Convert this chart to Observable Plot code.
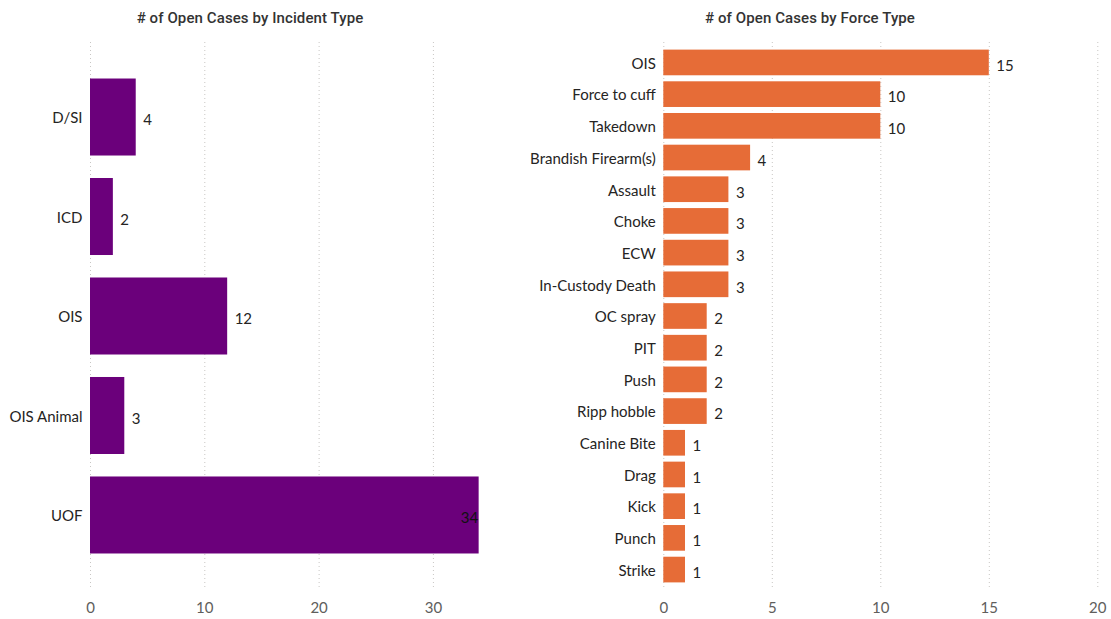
<!DOCTYPE html>
<html>
<head>
<meta charset="utf-8">
<script src="https://cdn.jsdelivr.net/npm/d3@7"></script>
<script src="https://cdn.jsdelivr.net/npm/@observablehq/plot@0.6"></script>
<style>
  html, body { margin: 0; padding: 0; background: #fff; }
  #root { position: relative; width: 1111px; height: 619px; overflow: hidden; }
  .title { position: absolute; top: 9px; font-family: Roboto, sans-serif; font-weight: 500; font-size: 15px; color: #333; white-space: nowrap; transform: translateX(-50%); letter-spacing: 0.1px; }
  .chart { position: absolute; top: 0; }
</style>
</head>
<body>
<div id="root">
  <div class="title" id="t1" style="left:250px"></div>
  <div class="title" id="t2" style="left:810px"></div>
  <div class="chart" id="c1" style="left:0px"></div>
  <div class="chart" id="c2" style="left:500px"></div>
</div>
<script>
// ---- data ----
const incidentTitle = "# of Open Cases by Incident Type";
const forceTitle = "# of Open Cases by Force Type";
const incidentTypes = ["D/SI", "ICD", "OIS", "OIS Animal", "UOF"];
const incidentCounts = [4, 2, 12, 3, 34];
const incidentTicks = [0, 10, 20, 30];
const forceTypes = ["OIS", "Force to cuff", "Takedown", "Brandish Firearm(s)", "Assault", "Choke", "ECW",
  "In-Custody Death", "OC spray", "PIT", "Push", "Ripp hobble", "Canine Bite", "Drag", "Kick", "Punch", "Strike"];
const forceCounts = [15, 10, 10, 4, 3, 3, 3, 3, 2, 2, 2, 2, 1, 1, 1, 1, 1];
const forceTicks = [0, 5, 10, 15, 20];

document.getElementById("t1").textContent = incidentTitle;
document.getElementById("t2").textContent = forceTitle;

const incidentData = incidentTypes.map((c, i) => ({cat: c, value: incidentCounts[i]}));
const forceData = forceTypes.map((c, i) => ({cat: c, value: forceCounts[i]}));

const textColor = "#252423";
const axisColor = "#605E5C";
const gridColor = "#c8c6c4";
const fontFamily = 'Lato, "Open Sans", sans-serif';

function barChart({data, cats, ticks, domainMax, width, marginLeft, marginRight, color, padIn, padOut, insideMin}) {
  return Plot.plot({
    width, height: 619,
    marginTop: 42, marginBottom: 29, marginLeft, marginRight,
    style: {fontFamily, fontSize: "15px", color: textColor, background: "transparent"},
    x: {domain: [0, domainMax], ticks, tickSize: 0, tickPadding: 12, label: null, tickFormat: d => String(d)},
    y: {domain: cats, paddingInner: padIn, paddingOuter: padOut, round: false, tickSize: 0, tickPadding: 8, label: null},
    marks: [
      Plot.gridX(ticks, {stroke: gridColor, strokeOpacity: 1, strokeDasharray: "1,3"}),
      Plot.barX(data, {x: "value", y: "cat", fill: color}),
      Plot.text(data.filter(d => d.value < insideMin), {x: "value", y: "cat", text: d => String(d.value), dx: 7, dy: 3, textAnchor: "start", fill: textColor, fontSize: 15}),
      Plot.text(data.filter(d => d.value >= insideMin), {x: "value", y: "cat", text: d => String(d.value), dx: -1, dy: 3, textAnchor: "end", fill: "#111", fontSize: 15}),
      Plot.axisX({ticks, tickSize: 0, tickPadding: 12, fill: axisColor, fontSize: 15, tickFormat: d => String(d)}),
      Plot.axisY({tickSize: 0, tickPadding: 8, dy: 1, fill: textColor, fontSize: 15})
    ]
  });
}

document.getElementById("c1").append(barChart({
  data: incidentData, cats: incidentTypes, ticks: incidentTicks, domainMax: 36,
  width: 530, marginLeft: 90, marginRight: 28.5, color: "#6B007B", padIn: 0.226, padOut: 0.367, insideMin: 30
}));
document.getElementById("c2").append(barChart({
  data: forceData, cats: forceTypes, ticks: forceTicks, domainMax: 20,
  width: 611, marginLeft: 163.3, marginRight: 13.7, color: "#E66C37", padIn: 0.19, padOut: 0.24, insideMin: 100
}));
</script>
</body>
</html>
